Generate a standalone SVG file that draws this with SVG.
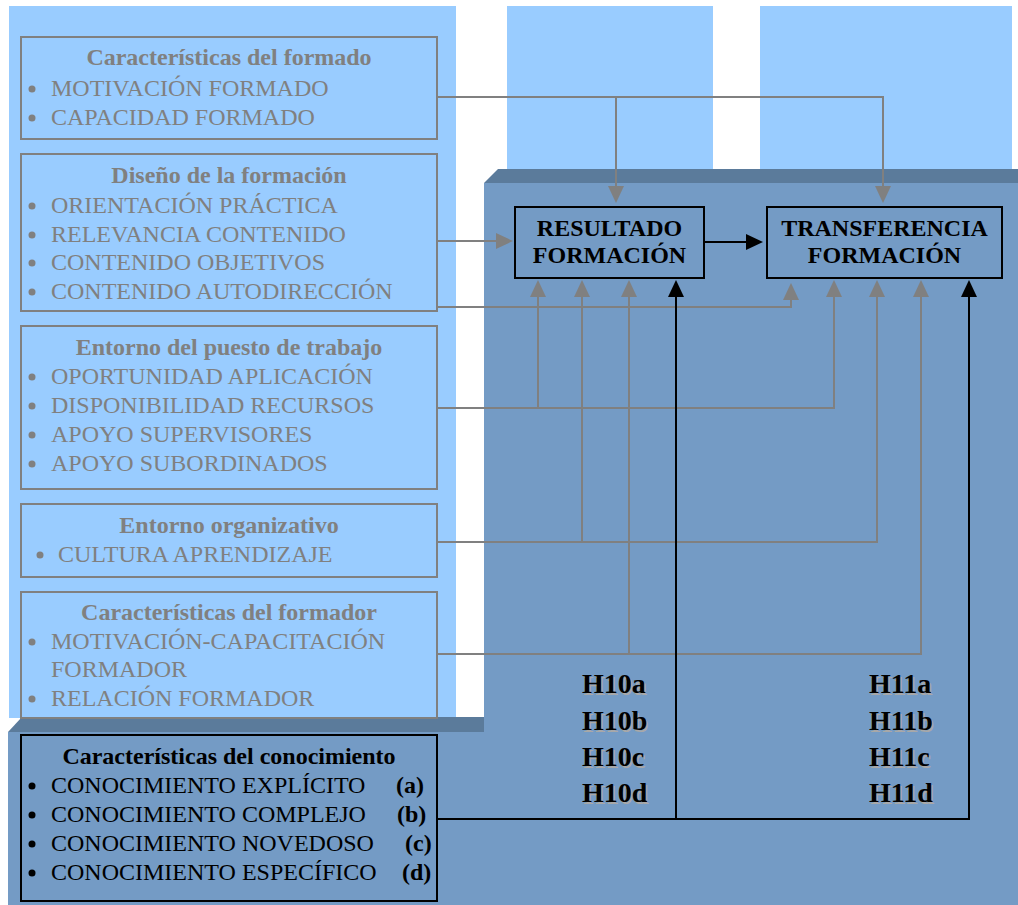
<svg xmlns="http://www.w3.org/2000/svg" width="1018" height="905" viewBox="0 0 1018 905">
<style>
.t{font-family:"Liberation Serif","Times New Roman",serif;font-size:24px}
.gt{fill:#808080}
.bk{fill:#000}
.b{font-weight:bold}
.box{fill:none;stroke:#808080;stroke-width:2}
.kbox{fill:none;stroke:#000;stroke-width:2}
.gl{fill:none;stroke:#808080;stroke-width:2}
.bl{fill:none;stroke:#000;stroke-width:2}
.h{font-family:"Liberation Serif","Times New Roman",serif;font-size:28px;font-weight:bold}
</style>
<defs>
<marker id="ag" viewBox="0 0 17 16" refX="13" refY="8" markerWidth="17" markerHeight="16" markerUnits="userSpaceOnUse" orient="auto"><path d="M0,0 L17,8 L0,16 z" fill="#808080"/></marker>
<marker id="ak" viewBox="0 0 17 16" refX="13" refY="8" markerWidth="17" markerHeight="16" markerUnits="userSpaceOnUse" orient="auto"><path d="M0,0 L17,8 L0,16 z" fill="#000"/></marker>
</defs>
<rect x="0" y="0" width="1018" height="905" fill="#fff"/>
<g id="background">
<rect x="9" y="6" width="447" height="712" fill="#99CCFF"/>
<rect x="507" y="6" width="206" height="164" fill="#99CCFF"/>
<rect x="760" y="6" width="252" height="164" fill="#99CCFF"/>
<polygon points="484,183 1018,183 1018,905 8,905 8,732 484,732" fill="#749BC5"/>
<polygon points="498,169 1018,169 1018,183 484,183" fill="#5B7B9B"/>
<polygon points="22,717 484,717 484,732 8,732" fill="#5B7B9B"/>
</g>
<g id="n-formado">
<rect class="box" x="21" y="37" width="416" height="102"/>
<text class="t gt b" x="229" y="65" text-anchor="middle">Características del formado</text>
<circle cx="32" cy="89" r="3.5" fill="#808080"/><text class="t gt" x="51" y="96">MOTIVACIÓN FORMADO</text>
<circle cx="32" cy="118" r="3.5" fill="#808080"/><text class="t gt" x="51" y="125">CAPACIDAD FORMADO</text>
</g>
<g id="n-diseno">
<rect class="box" x="21" y="154" width="416" height="157"/>
<text class="t gt b" x="229" y="183" text-anchor="middle">Diseño de la formación</text>
<circle cx="32" cy="206" r="3.5" fill="#808080"/><text class="t gt" x="51" y="213">ORIENTACIÓN PRÁCTICA</text>
<circle cx="32" cy="235" r="3.5" fill="#808080"/><text class="t gt" x="51" y="242">RELEVANCIA CONTENIDO</text>
<circle cx="32" cy="263" r="3.5" fill="#808080"/><text class="t gt" x="51" y="270">CONTENIDO OBJETIVOS</text>
<circle cx="32" cy="292" r="3.5" fill="#808080"/><text class="t gt" x="51" y="299">CONTENIDO AUTODIRECCIÓN</text>
</g>
<g id="n-puesto">
<rect class="box" x="21" y="326" width="416" height="163"/>
<text class="t gt b" x="229" y="355" text-anchor="middle">Entorno del puesto de trabajo</text>
<circle cx="32" cy="377" r="3.5" fill="#808080"/><text class="t gt" x="51" y="384">OPORTUNIDAD APLICACIÓN</text>
<circle cx="32" cy="406" r="3.5" fill="#808080"/><text class="t gt" x="51" y="413">DISPONIBILIDAD RECURSOS</text>
<circle cx="32" cy="435" r="3.5" fill="#808080"/><text class="t gt" x="51" y="442">APOYO SUPERVISORES</text>
<circle cx="32" cy="464" r="3.5" fill="#808080"/><text class="t gt" x="51" y="471">APOYO SUBORDINADOS</text>
</g>
<g id="n-organizativo">
<rect class="box" x="21" y="504" width="416" height="73"/>
<text class="t gt b" x="229" y="533" text-anchor="middle">Entorno organizativo</text>
<circle cx="40" cy="555" r="3.5" fill="#808080"/><text class="t gt" x="58" y="562">CULTURA APRENDIZAJE</text>
</g>
<g id="n-formador">
<rect class="box" x="21" y="592" width="416" height="126"/>
<text class="t gt b" x="229" y="620" text-anchor="middle">Características del formador</text>
<circle cx="32" cy="642" r="3.5" fill="#808080"/><text class="t gt" x="51" y="649">MOTIVACIÓN-CAPACITACIÓN</text>
<text class="t gt" x="51" y="677">FORMADOR</text>
<circle cx="32" cy="699" r="3.5" fill="#808080"/><text class="t gt" x="51" y="706">RELACIÓN FORMADOR</text>
</g>
<g id="n-conocimiento">
<rect class="kbox" x="21" y="735" width="416" height="166"/>
<text class="t bk b" x="229" y="764" text-anchor="middle">Características del conocimiento</text>
<circle cx="32" cy="786" r="3.5" fill="#000"/><text class="t bk" x="51" y="793">CONOCIMIENTO EXPLÍCITO</text><text class="t bk b" x="396" y="793">(a)</text>
<circle cx="32" cy="815" r="3.5" fill="#000"/><text class="t bk" x="51" y="822">CONOCIMIENTO COMPLEJO</text><text class="t bk b" x="397" y="822">(b)</text>
<circle cx="32" cy="844" r="3.5" fill="#000"/><text class="t bk" x="51" y="851">CONOCIMIENTO NOVEDOSO</text><text class="t bk b" x="405" y="851">(c)</text>
<circle cx="32" cy="873" r="3.5" fill="#000"/><text class="t bk" x="51" y="880">CONOCIMIENTO ESPECÍFICO</text><text class="t bk b" x="402" y="880">(d)</text>
</g>
<g id="n-resultado">
<rect class="kbox" x="515" y="207" width="189" height="71"/>
<text class="t bk b" x="609.5" y="236" text-anchor="middle">RESULTADO</text>
<text class="t bk b" x="609.5" y="263" text-anchor="middle">FORMACIÓN</text>
</g>
<g id="n-transferencia">
<rect class="kbox" x="767" y="207" width="235" height="71"/>
<text class="t bk b" x="884.5" y="236" text-anchor="middle">TRANSFERENCIA</text>
<text class="t bk b" x="884.5" y="263" text-anchor="middle">FORMACIÓN</text>
</g>
<g id="connectors">
<path class="gl" d="M437,97 H883 V199" marker-end="url(#ag)"/>
<path class="gl" d="M616,97 V199" marker-end="url(#ag)"/>
<path class="gl" d="M437,241 H509" marker-end="url(#ag)"/>
<path class="gl" d="M437,307 H791 V287" marker-end="url(#ag)"/>
<path class="gl" d="M437,408 H834 V284" marker-end="url(#ag)"/>
<path class="gl" d="M538,408 V284" marker-end="url(#ag)"/>
<path class="gl" d="M437,542 H877 V284" marker-end="url(#ag)"/>
<path class="gl" d="M582,542 V284" marker-end="url(#ag)"/>
<path class="gl" d="M437,654 H921 V284" marker-end="url(#ag)"/>
<path class="gl" d="M629,654 V284" marker-end="url(#ag)"/>
<path class="bl" d="M704,242 H759" marker-end="url(#ak)"/>
<path class="bl" d="M437,819 H969 V284" marker-end="url(#ak)"/>
<path class="bl" d="M676,819 V284" marker-end="url(#ak)"/>
</g>
<g id="hypotheses">
<g fill="#A8A8A8" transform="translate(1.5,1.5)">
<text class="h" x="582" y="693">H10a</text><text class="h" x="582" y="730">H10b</text><text class="h" x="582" y="766">H10c</text><text class="h" x="582" y="802">H10d</text>
<text class="h" x="869" y="693">H11a</text><text class="h" x="869" y="730">H11b</text><text class="h" x="869" y="766">H11c</text><text class="h" x="869" y="802">H11d</text>
</g>
<g fill="#000">
<text class="h" x="582" y="693">H10a</text><text class="h" x="582" y="730">H10b</text><text class="h" x="582" y="766">H10c</text><text class="h" x="582" y="802">H10d</text>
<text class="h" x="869" y="693">H11a</text><text class="h" x="869" y="730">H11b</text><text class="h" x="869" y="766">H11c</text><text class="h" x="869" y="802">H11d</text>
</g>
</g>
</svg>
